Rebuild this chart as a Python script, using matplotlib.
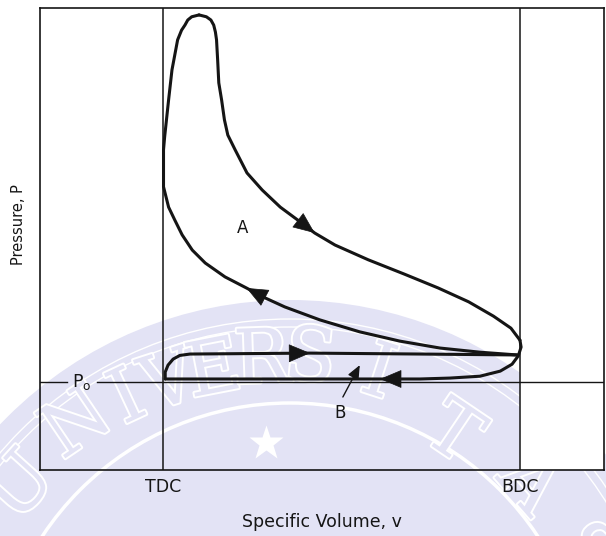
import numpy as np
import matplotlib.pyplot as plt
import matplotlib.patheffects as pe
from matplotlib.patches import Circle

# Positions, arbitrary units: the plot box spans 0..100 on both axes
v_tdc = 21.8
v_bdc = 85.1
p_o = 19.0

# compression stroke BDC -> TDC, then combustion rise up to peak pressure
v_comp = [84.6, 78.0, 70.9, 63.8, 56.7, 49.6, 43.4, 40.0, 36.6, 32.8, 29.3, 27.0, 25.2,
          23.9, 22.8, 21.9, 21.9, 21.9, 22.1, 22.8, 23.4, 24.4, 25.1, 25.7, 26.2, 26.9, 28.2]
p_comp = [24.9, 25.5, 26.4, 27.9, 29.9, 32.5, 35.3, 37.2, 39.4, 41.8, 44.8, 47.6, 50.9,
          54.1, 56.9, 61.3, 66.0, 69.3, 72.1, 80.1, 86.6, 93.1, 95.2, 96.3, 97.4, 98.1, 98.5]

# expansion (power) stroke from peak down to BDC
v_exp = [28.2, 29.5, 30.3, 30.8, 31.1, 31.3, 31.5, 31.7, 32.2, 32.7, 33.3, 34.6, 36.7,
         39.4, 42.6, 45.7, 48.7, 52.3, 58.2, 64.6, 70.6, 76.0, 80.4, 83.5, 85.1]
p_exp = [98.5, 98.1, 97.4, 96.3, 94.8, 93.1, 88.7, 83.8, 80.1, 75.8, 72.5, 69.3, 64.3,
         60.6, 56.9, 54.1, 51.3, 48.7, 45.5, 42.4, 39.4, 36.4, 33.3, 30.7, 28.1]

# blowdown and exhaust stroke BDC -> TDC
v_exh = [85.1, 85.3, 84.8, 83.7, 81.6, 78.0, 72.7, 67.4, 60.3, 46.1, 22.2]
p_exh = [28.1, 26.6, 24.7, 22.9, 21.4, 20.3, 19.9, 19.7, 19.7, 19.7, 19.7]

# intake stroke TDC -> BDC
v_int = [22.2, 22.2, 22.7, 23.6, 24.8, 26.6, 37.2, 47.9, 67.4, 84.6]
p_int = [19.7, 21.2, 22.7, 24.0, 24.8, 25.1, 25.2, 25.3, 25.1, 24.9]

# arrowheads: (curve, index of the tip point)
arrows = [(v_exp, p_exp, 16), (v_comp, p_comp, 8), (v_int, p_int, 7), (v_exh, p_exh, 8)]

# label B pointer (tail, tip)
b_ptr_v = [53.7, 56.7]
b_ptr_p = [15.8, 22.7]

W, H = 606, 536
ink = '#151515'
lav = '#e3e3f5'
fig = plt.figure(figsize=(W / 100, H / 100), dpi=100)

# faint university seal watermark behind the scan
bg = fig.add_axes([0, 0, 1, 1], zorder=0)
bg.set_xlim(0, W)
bg.set_ylim(H, 0)
bg.axis('off')
seal = (290, 700)
bg.add_patch(Circle(seal, 400, fc=lav, ec='none'))
for r, lw in [(381, 1.0), (373, 1.0), (297, 2.5)]:
    bg.add_patch(Circle(seal, r, fill=False, ec='white', lw=lw))
seal_x = [22, 78, 128, 170, 214, 262, 310, 378, 452, 528, 582]
seal_y = [488, 425, 400, 384, 372, 362, 360, 375, 435, 485, 552]
seal_rot = [48, 34, 25, 18, 11, 2, -6, -18, -34, -49, -60]
for ch, x, y, r in zip('UNIVERSITAS', seal_x, seal_y, seal_rot):
    bg.text(x, y, ch, fontsize=54, family='DejaVu Serif', color=lav,
            rotation=r, rotation_mode='anchor', ha='center', va='center',
            path_effects=[pe.withStroke(linewidth=2.8, foreground='white')])
bg.plot(266, 443, marker='*', ms=26, color='white', mec='none')

# main diagram
ax = fig.add_axes([40 / W, 1 - 470 / H, 564 / W, 462 / H], zorder=1)
ax.patch.set_alpha(0)
ax.set_xlim(0, 100)
ax.set_ylim(0, 100)
for s in ax.spines.values():
    s.set_linewidth(1.2)
    s.set_color(ink)

# the scanned panel right of BDC is plain white
ax.axvspan(v_bdc, 100, color='white', zorder=0)

ax.axvline(v_tdc, color=ink, lw=1.1)
ax.axvline(v_bdc, color=ink, lw=1.1)
ax.axhline(p_o, 0, 0.048, color=ink, lw=1.0)
ax.axhline(p_o, 0.101, 1, color=ink, lw=1.0)

for v, p in [(v_comp, p_comp), (v_exp, p_exp), (v_exh, p_exh), (v_int, p_int)]:
    ax.plot(v, p, color=ink, lw=2.2, solid_capstyle='round', solid_joinstyle='round')

for v, p, i in arrows:
    ax.annotate('', xy=(v[i], p[i]), xytext=(v[i - 1], p[i - 1]),
                arrowprops=dict(arrowstyle='-|>,head_length=0.9,head_width=0.38',
                                fc=ink, ec=ink, lw=0.5, mutation_scale=16,
                                shrinkA=0, shrinkB=0))

ax.annotate('', xy=(b_ptr_v[1], b_ptr_p[1]), xytext=(b_ptr_v[0], b_ptr_p[0]),
            arrowprops=dict(arrowstyle='-|>,head_length=0.7,head_width=0.3',
                            fc=ink, ec=ink, lw=1.0, mutation_scale=12,
                            shrinkA=0, shrinkB=0))

ax.text(36.0, 52.4, 'A', fontsize=12, color=ink, ha='center', va='center')
ax.text(53.2, 12.3, 'B', fontsize=12, color=ink, ha='center', va='center')
ax.text(7.4, p_o, r'P$_{\mathregular{o}}$', fontsize=12.5, color=ink, ha='center', va='center')

ax.set_xticks([v_tdc, v_bdc], ['TDC', 'BDC'])
ax.set_yticks([])
ax.tick_params(axis='x', length=0, pad=6, labelsize=12.5, labelcolor=ink)
ax.set_xlabel('Specific Volume, v', fontsize=12.5, color=ink, labelpad=12)
ax.set_ylabel('Pressure, P', fontsize=10.5, color=ink)
ax.yaxis.set_label_coords(-0.024, 0.532)

fig.savefig('out.png', dpi=100)
